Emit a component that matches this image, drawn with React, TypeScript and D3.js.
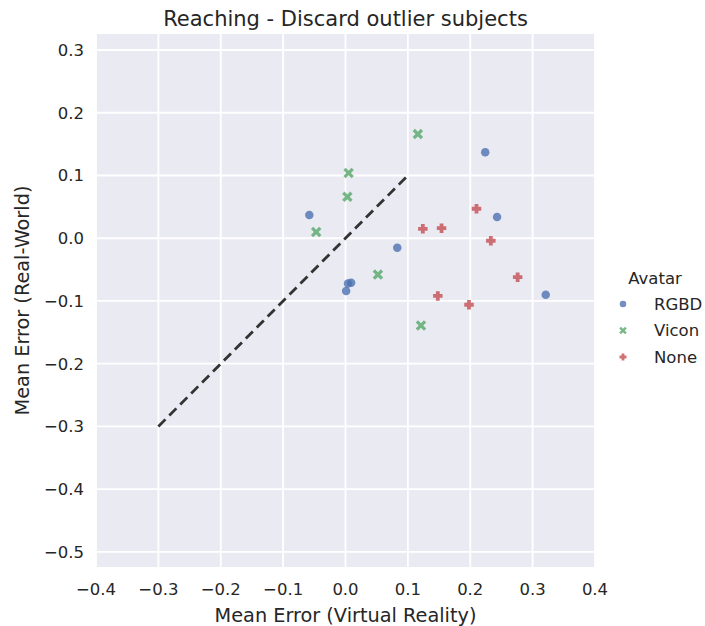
import React from "react";
import * as d3 from "d3";

const title = "Reaching - Discard outlier subjects";
const xLabel = "Mean Error (Virtual Reality)";
const yLabel = "Mean Error (Real-World)";
const legendTitle = "Avatar";

const groups = ["RGBD", "Vicon", "None"];
const groupColors = ["#4C72B0", "#55A868", "#C44E52"];

const rgbdX = [-0.058, 0.083, 0.004, 0.009, 0.001, 0.224, 0.243, 0.321];
const rgbdY = [0.037, -0.015, -0.072, -0.071, -0.084, 0.137, 0.034, -0.090];
const viconX = [0.116, 0.005, 0.003, -0.047, 0.052, 0.121];
const viconY = [0.166, 0.104, 0.066, 0.010, -0.058, -0.139];
const noneX = [0.124, 0.154, 0.148, 0.210, 0.233, 0.276, 0.198];
const noneY = [0.015, 0.016, -0.092, 0.047, -0.004, -0.062, -0.106];

const refLine = [-0.3, 0.1];
const xTicks = [-0.4, -0.3, -0.2, -0.1, 0.0, 0.1, 0.2, 0.3, 0.4];
const yTicks = [-0.5, -0.4, -0.3, -0.2, -0.1, 0.0, 0.1, 0.2, 0.3];

const W = 705;
const H = 626;
const plot = { left: 96, right: 595, top: 34, bottom: 567 };
const font = "'DejaVu Sans', sans-serif";
const textColor = "#262626";
const tickSize = 16.5;
const labelSize = 19.3;

const x = d3.scaleLinear().domain([-0.4, 0.4]).range([plot.left, plot.right]);
const y = d3.scaleLinear().domain([-0.524, 0.3255]).range([plot.bottom, plot.top]);
const fmt = d3.format(".1f");

// Filled marker paths centred on 0,0
function xMarker(s: number) {
  const a = s / 2;
  const t = s * 0.22;
  const pts: [number, number][] = [
    [-a, -a + t], [-a + t, -a], [0, -t], [a - t, -a], [a, -a + t], [t, 0],
    [a, a - t], [a - t, a], [0, t], [-a + t, a], [-a, a - t], [-t, 0],
  ];
  return "M" + pts.map((p) => p.join(",")).join("L") + "Z";
}
function plusMarker(s: number) {
  const a = s / 2;
  const t = s * 0.2;
  const pts: [number, number][] = [
    [-t, -a], [t, -a], [t, -t], [a, -t], [a, t], [t, t],
    [t, a], [-t, a], [-t, t], [-a, t], [-a, -t], [-t, -t],
  ];
  return "M" + pts.map((p) => p.join(",")).join("L") + "Z";
}

function Marker({ kind, cx, cy, color, size }: { kind: number; cx: number; cy: number; color: string; size: number }) {
  if (kind === 0) return <circle cx={cx} cy={cy} r={size / 2} fill={color} fillOpacity={0.8} />;
  const d = kind === 1 ? xMarker(size) : plusMarker(size);
  return <path d={d} transform={`translate(${cx},${cy})`} fill={color} fillOpacity={0.8} />;
}

const markerSizes = [8.5, 10.5, 9.5];
const legendSizes = [6.5, 7.5, 7];

export default function App() {
  const series = [
    { xs: rgbdX, ys: rgbdY },
    { xs: viconX, ys: viconY },
    { xs: noneX, ys: noneY },
  ];
  const legendY = [304, 330.5, 357];
  return (
    <svg width={W} height={H} style={{ display: "block", position: "absolute", left: 0, top: 0 }} fontFamily={font}>
      <rect x={0} y={0} width={W} height={H} fill="#ffffff" />
      <rect x={plot.left} y={plot.top} width={plot.right - plot.left} height={plot.bottom - plot.top} fill="#EAEAF2" />
      {xTicks.map((t) => (
        <line key={"gx" + t} x1={x(t)} x2={x(t)} y1={plot.top} y2={plot.bottom} stroke="#fff" strokeWidth={1.8} />
      ))}
      {yTicks.map((t) => (
        <line key={"gy" + t} x1={plot.left} x2={plot.right} y1={y(t)} y2={y(t)} stroke="#fff" strokeWidth={1.8} />
      ))}
      {xTicks.map((t) => (
        <text key={"tx" + t} x={x(t)} y={595} textAnchor="middle" fontSize={tickSize} fill={textColor}>
          {fmt(t)}
        </text>
      ))}
      {yTicks.map((t) => (
        <text key={"ty" + t} x={plot.left - 12} y={y(t)} dy="0.36em" textAnchor="end" fontSize={tickSize} fill={textColor}>
          {fmt(t)}
        </text>
      ))}
      <line
        x1={x(refLine[0])} y1={y(refLine[0])} x2={x(refLine[1])} y2={y(refLine[1])}
        stroke="#333333" strokeWidth={2.8} strokeDasharray="10,5.5"
      />
      {series.map((s, gi) =>
        s.xs.map((vx, i) => (
          <Marker key={gi + "-" + i} kind={gi} cx={x(vx)} cy={y(s.ys[i])} color={groupColors[gi]} size={markerSizes[gi]} />
        ))
      )}
      <text x={(plot.left + plot.right) / 2} y={26} textAnchor="middle" fontSize={21} fill={textColor}>
        {title}
      </text>
      <text x={(plot.left + plot.right) / 2} y={622} textAnchor="middle" fontSize={labelSize} fill={textColor}>
        {xLabel}
      </text>
      <text transform={`translate(29,${(plot.top + plot.bottom) / 2}) rotate(-90)`} textAnchor="middle" fontSize={labelSize} fill={textColor}>
        {yLabel}
      </text>
      <text x={655} y={284} textAnchor="middle" fontSize={tickSize} fill={textColor}>
        {legendTitle}
      </text>
      {groups.map((g, gi) => (
        <g key={g}>
          <Marker kind={gi} cx={623} cy={legendY[gi]} color={groupColors[gi]} size={legendSizes[gi]} />
          <text x={654} y={legendY[gi]} dy="0.36em" fontSize={tickSize} fill={textColor}>
            {g}
          </text>
        </g>
      ))}
    </svg>
  );
}
